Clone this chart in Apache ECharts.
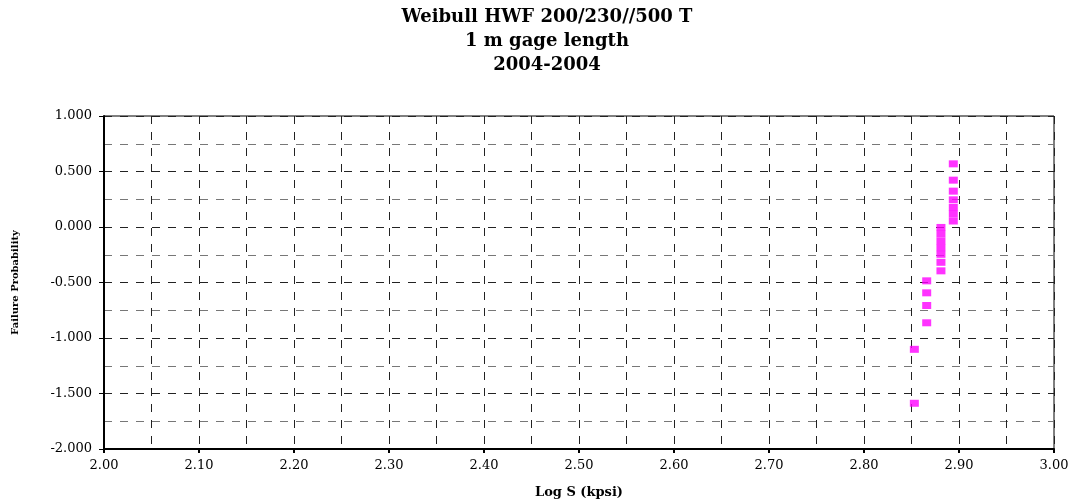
<!DOCTYPE html>
<html>
<head>
<meta charset="utf-8">
<script src="https://cdn.jsdelivr.net/npm/echarts@6/dist/echarts.min.js"></script>
<style>
  html, body { margin: 0; padding: 0; background: #fff; }
  #chart { width: 1074px; height: 504px; }
</style>
</head>
<body>
<div id="chart"></div>
<script>
// data
var titleLines = ['Weibull HWF 200/230//500 T', '1 m gage length', '2004-2004']
var logS = [
  2.894, 2.894, 2.894, 2.894, 2.894, 2.894, 2.894,
  2.881, 2.881, 2.881, 2.881, 2.881, 2.881, 2.881,
  2.866, 2.866, 2.866, 2.866,
  2.853, 2.853
]
var failProb = [
  0.569, 0.422, 0.323, 0.245, 0.176, 0.117, 0.054,
  -0.004, -0.063, -0.126, -0.186, -0.246, -0.318, -0.395,
  -0.485, -0.593, -0.707, -0.863,
  -1.102, -1.588
]

var serif = '"DejaVu Serif", "Liberation Serif", serif'
var points = logS.map(function (x, i) { return [x, failProb[i]] })

var chart = echarts.init(document.getElementById('chart'))
chart.setOption({
  animation: false,
  title: {
    text: titleLines.join('\n'),
    left: 542,
    textAlign: 'center',
    top: 0,
    textStyle: {
      fontFamily: serif,
      fontWeight: 'bold',
      fontSize: 18,
      lineHeight: 24,
      color: '#000'
    }
  },
  grid: {
    left: 104,
    right: 20,
    top: 116,
    bottom: 54,
    show: true,
    borderColor: '#000',
    borderWidth: 1
  },
  xAxis: {
    type: 'value',
    min: 2.0,
    max: 3.0,
    interval: 0.1,
    name: 'Log S (kpsi)',
    nameLocation: 'middle',
    nameGap: 37,
    nameTextStyle: { fontFamily: serif, fontWeight: 'bold', fontSize: 13, color: '#000' },
    axisLine: { onZero: false, lineStyle: { color: '#000', width: 2 } },
    axisTick: { length: 4, lineStyle: { color: '#000', width: 2 } },
    axisLabel: {
      fontFamily: serif, fontSize: 13, color: '#000', margin: 10,
      formatter: function (v) { return v.toFixed(2) }
    },
    splitLine: { show: true, lineStyle: { color: '#222', type: [8, 8], width: 1 } },
    minorTick: { show: false, splitNumber: 2 },
    minorSplitLine: { show: true, lineStyle: { color: '#222', type: [8, 8], width: 1 } }
  },
  yAxis: {
    type: 'value',
    min: -2.0,
    max: 1.0,
    interval: 0.5,
    name: 'Failure Probability',
    nameLocation: 'middle',
    nameGap: 84,
    nameTextStyle: { fontFamily: serif, fontWeight: 'bold', fontSize: 10, color: '#000' },
    axisLine: { onZero: false, lineStyle: { color: '#000', width: 2 } },
    axisTick: { length: 5, lineStyle: { color: '#000', width: 1 } },
    axisLabel: {
      fontFamily: serif, fontSize: 13, color: '#000', margin: 12,
      formatter: function (v) { return v.toFixed(3) }
    },
    splitLine: { show: true, lineStyle: { color: '#222', type: [8, 8], width: 1 } },
    minorTick: { show: false, splitNumber: 2 },
    minorSplitLine: { show: true, lineStyle: { color: '#777', type: [8, 8], width: 1 } }
  },
  series: [{
    type: 'scatter',
    data: points,
    symbol: 'rect',
    symbolSize: [9, 7],
    itemStyle: { color: '#FF00FF' }
  }]
})
</script>
</body>
</html>
